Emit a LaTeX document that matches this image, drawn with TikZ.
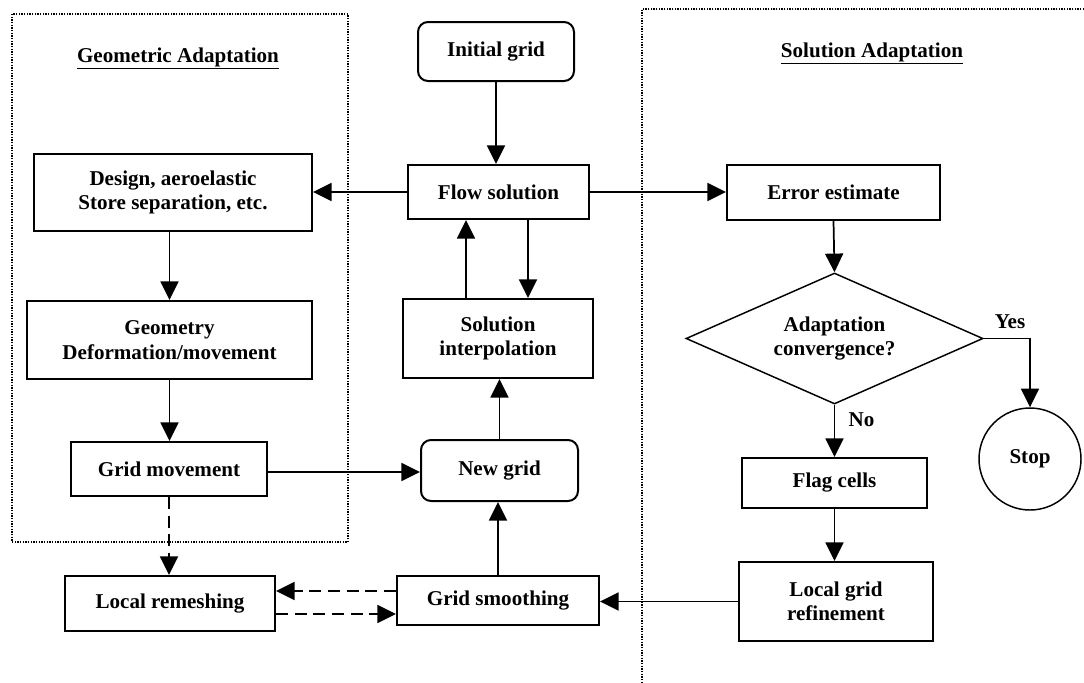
\documentclass[tikz,border=0pt]{standalone}
\usepackage{fontspec}
\setmainfont{Liberation Serif}
\usetikzlibrary{shapes.geometric,arrows.meta,calc}
\begin{document}
\begin{tikzpicture}[x=0.75pt,y=-0.75pt,
  every node/.style={font=\fontsize{15.8}{18.4}\selectfont\bfseries},
  box/.style={draw,line width=1.5pt,inner sep=0pt,align=center},
  rbox/.style={box,rounded corners=7.5pt},
  arr/.style={line width=1.3pt,-{Triangle[length=14pt,width=13.5pt]}},
  darr/.style={arr,dash pattern=on 9pt off 5pt},
  dotbox/.style={line width=1pt,dash pattern=on 1pt off 1pt},
  lbl/.style={inner sep=0pt}]
\useasboundingbox (0,0) rectangle (1084,682);

% dotted group frames
\draw[dotbox] (12,14) rectangle (348,542);
\draw[dotbox] (1084,9) -- (642,9) -- (642,682);

% titles
\node[lbl,anchor=base] (gtitle) at (178,62) {\underline{Geometric Adaptation}};
\node[lbl,anchor=base] (stitle) at (872,57) {\underline{Solution Adaptation}};

% nodes
\node[rbox,minimum width=117pt,minimum height=44.25pt] (init) at (496,51.5) {Initial grid};
\node[box,minimum width=135.75pt,minimum height=40.5pt] (flow) at (498.5,192) {Flow solution};
\node[box,minimum width=208.5pt,minimum height=57.75pt] (design) at (173,192.5) {Design, aeroelastic\\Store separation, etc.};
\node[box,minimum width=159.75pt,minimum height=41.25pt] (error) at (833.5,192.5) {Error estimate};
\node[box,minimum width=213.75pt,minimum height=58.5pt] (geom) at (169.5,340) {Geometry\\Deformation/movement};
\node[box,minimum width=142.5pt,minimum height=59.25pt] (interp) at (498,338.5) {Solution\\interpolation};
\node[draw,diamond,shape aspect=2.27,minimum width=222.75pt,minimum height=98.25pt,inner sep=0pt,line width=1.1pt,align=center] (conv) at (834.5,338.5) {Adaptation\\convergence?};
\node[draw,circle,minimum size=76.5pt,inner sep=0pt,line width=1.1pt] (stop) at (1030,459) {Stop};
\node[box,minimum width=138.75pt,minimum height=37.5pt] (flag) at (834.5,483) {Flag cells};
\node[box,minimum width=145.5pt,minimum height=59.25pt] (refine) at (836,601.5) {Local grid\\refinement};
\node[box,minimum width=151.5pt,minimum height=36.75pt] (smooth) at (498,600.5) {Grid smoothing};
\node[box,minimum width=157.5pt,minimum height=41.25pt] (remesh) at (170,603.5) {Local remeshing};
\node[box,minimum width=147pt,minimum height=40.5pt] (gmove) at (169,469) {Grid movement};
\node[rbox,minimum width=117.75pt,minimum height=45.75pt] (newgrid) at (499.5,470.5) {New grid};

% labels
\node[lbl] (yes) at (1010,322) {Yes};
\node[lbl] (no) at (861.5,420) {No};

% helper coordinates for offset connectors
\coordinate (fdown) at ($(flow.south)+(29.5,0)$);
\coordinate (iup) at ($(interp.north)+(-32,0)$);
\coordinate (gmr) at ($(gmove.east)+(0,3)$);
\coordinate (smw) at ($(smooth.west)+(0,-9.5)$);
\coordinate (rme) at ($(remesh.east)+(0,10.5)$);

% connectors
\draw[arr] (init.south) -- (init.south |- flow.north);
\draw[arr] (flow.west) -- (flow.west -| design.east);
\draw[arr] (flow.east) -- (flow.east -| error.west);
\draw[arr] (error.south) -- (conv.north);
\draw[arr] (geom.north |- design.south) -- (geom.north);
\draw[arr] (geom.south) -- (geom.south |- gmove.north);
\draw[arr] (fdown) -- (fdown |- interp.north);
\draw[arr] (iup) -- (iup |- flow.south);
\draw[arr] (newgrid.north) -- (newgrid.north |- interp.south);
\draw[arr] (gmr) -- (gmr -| newgrid.west);
\draw[arr] (smooth.north) -- (smooth.north |- newgrid.south);
\draw[darr] (gmove.south) -- (gmove.south |- remesh.north);
\draw[darr] (smw) -- (smw -| remesh.east);
\draw[darr] (rme) -- (rme -| smooth.west);
\draw[arr] (refine.west) -- (refine.west -| smooth.east);
\draw[arr] (conv.south) -- (conv.south |- flag.north);
\draw[arr] (flag.south) -- (flag.south |- refine.north);
\draw[arr] (conv.east) -| (stop.north);
\end{tikzpicture}
\end{document}
